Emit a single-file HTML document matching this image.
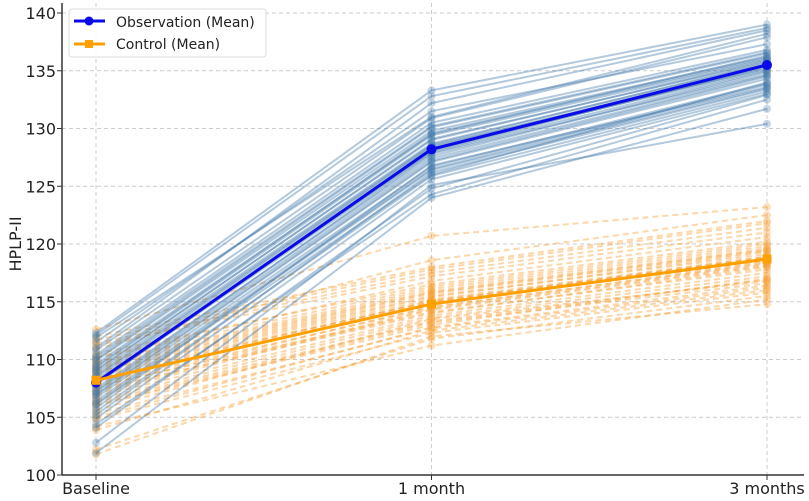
<!DOCTYPE html>
<html><head><meta charset="utf-8"><style>
body{margin:0;background:#fff;}
svg text{font-family:"DejaVu Sans","Liberation Sans",sans-serif;}
</style></head><body>
<svg id="chart" width="809" height="496" xmlns="http://www.w3.org/2000/svg"></svg>
<script>
const categories=["Baseline","1 month","3 months"];
const yTicks=[100,105,110,115,120,125,130,135,140];
const obsBase=[108.5,110.2,106.1,112.3,104.4,109.0,107.2,111.5,102.8,105.8,109.9,108.1,106.9,110.8,101.9,107.8,109.3,111.0,105.2,108.8,107.5,106.4,110.4,104.9,109.6,108.3,107.0,111.9,106.7,109.1,112.1,105.5,108.0,107.3,110.0,104.1,106.2,109.4,108.6,107.9];
const obs1m=[128.5,130.2,126.0,133.3,124.3,129.1,127.4,131.5,125.1,126.8,129.8,128.0,127.1,130.9,124.0,128.3,129.4,132.2,126.2,128.7,127.6,126.5,130.5,125.6,129.5,128.4,127.2,131.0,126.7,129.0,132.8,125.9,128.1,127.8,130.1,124.8,126.4,129.6,128.6,127.9];
const obs3m=[135.2,136.6,134.0,139.0,132.5,135.8,134.6,137.3,130.4,133.6,136.2,135.4,134.3,137.9,131.7,135.1,136.0,138.5,133.4,135.6,134.9,133.8,136.8,133.0,136.3,135.5,134.5,138.2,133.9,135.9,138.7,133.2,135.3,134.7,136.5,132.9,133.5,136.1,135.7,135.0];
const ctlBase=[108.2,110.5,106.0,112.6,104.2,109.2,107.4,111.2,101.8,105.6,109.8,108.5,106.8,110.9,103.9,107.6,109.5,111.7,105.0,108.9,107.0,106.5,110.2,104.8,109.7,108.0,107.7,112.0,106.3,109.0,111.4,105.3,108.3,107.2,110.1,102.2,106.1,109.3,108.7,107.9];
const ctl1m=[114.8,116.5,113.0,120.7,111.2,115.5,114.0,117.2,112.0,113.5,116.1,115.0,113.8,118.6,112.5,114.6,115.8,117.8,112.8,115.2,114.3,113.6,116.8,112.3,115.9,114.9,114.1,118.0,113.3,115.4,117.5,112.7,115.1,114.4,116.3,111.8,113.2,115.7,115.0,114.5];
const ctl3m=[118.6,120.2,117.0,123.2,115.2,119.1,118.0,121.0,114.8,116.8,119.8,118.8,117.5,122.5,116.0,118.3,119.5,121.8,116.4,118.9,118.1,117.2,120.6,115.8,119.6,118.5,117.8,122.0,116.9,119.3,121.4,116.2,118.7,118.2,120.0,115.5,116.6,119.4,118.9,118.4];
const obsMean=[108.0,128.2,135.5];
const ctlMean=[108.2,114.8,118.7];

const NS="http://www.w3.org/2000/svg";
const svg=document.getElementById('chart');
const X0=62,X1=804,Y0=475,Y1=13;
const xs=i=>96+i*335.5;
const ys=v=>Y0-(v-100)/40*(Y0-Y1);
function mk(t,a){const e=document.createElementNS(NS,t);for(const k in a)e.setAttribute(k,a[k]);svg.appendChild(e);return e;}
yTicks.forEach(v=>{
 const l=mk('line',{x1:X0,x2:X1,y1:ys(v),y2:ys(v),stroke:'#ccc','stroke-dasharray':'4,3','stroke-width':1});
 
 
 const t=mk('text',{x:X0-6,y:ys(v)+6,'text-anchor':'end','font-size':16,fill:'#222'});t.textContent=v;
 
 
 mk('line',{x1:X0-5,x2:X0,y1:ys(v),y2:ys(v),stroke:'#333'});
});
categories.forEach((c,i)=>{
 const l=mk('line',{x1:xs(i),x2:xs(i),y1:Y1-10,y2:Y0,stroke:'#ccc','stroke-dasharray':'4,3'});
 
 
 mk('line',{x1:xs(i),x2:xs(i),y1:Y0,y2:Y0+5,stroke:'#333'});
 const t=mk('text',{x:xs(i),y:494,'text-anchor':'middle','font-size':16,fill:'#222'});t.textContent=c;
 
 
});
function series(a,b,c,col,op,dash,name){
 for(let k=0;k<a.length;k++){
  const v=[a[k],b[k],c[k]];
  const p=mk('polyline',{points:v.map((y,i)=>xs(i)+','+ys(y)).join(' '),fill:'none',stroke:col,'stroke-opacity':op,'stroke-width':2,'stroke-dasharray':dash});
  
  
  v.forEach((y,i)=>{mk('circle',{cx:xs(i),cy:ys(y),r:4,fill:col,'fill-opacity':0.3});});
 }
}
series(ctlBase,ctl1m,ctl3m,'#f79a2a',0.4,'6,4','control');
series(obsBase,obs1m,obs3m,'#4078aa',0.4,'','observation');
function mean(v,col,sq,name){
 const p=mk('polyline',{points:v.map((y,i)=>xs(i)+','+ys(y)).join(' '),fill:'none',stroke:col,'stroke-width':3});
 
 
 v.forEach((y,i)=>{ if(sq) mk('rect',{x:xs(i)-4.5,y:ys(y)-4.5,width:9,height:9,fill:col}); else mk('circle',{cx:xs(i),cy:ys(y),r:5,fill:col});});
}
mean(obsMean,'#0a0ae8',false,'observation-mean-line');
mean(ctlMean,'#ff9f00',true,'control-mean-line');
mk('line',{x1:X0,x2:X0,y1:3,y2:Y0,stroke:'#333','stroke-width':1.5});
mk('line',{x1:X0,x2:X1,y1:Y0,y2:Y0,stroke:'#333','stroke-width':1.5});
const yl=mk('text',{x:0,y:0,transform:'translate(21,244) rotate(-90)','text-anchor':'middle','font-size':16,fill:'#222'});yl.textContent='HPLP-II';


const lg=mk('rect',{x:69,y:9,width:197,height:48,rx:3,fill:'#fff','fill-opacity':0.85,stroke:'#ddd'});


mk('line',{x1:74,x2:105,y1:21,y2:21,stroke:'#0a0ae8','stroke-width':3});
mk('circle',{cx:89,cy:21,r:4.5,fill:'#0a0ae8'});
let t=mk('text',{x:116,y:27,'font-size':14,fill:'#222'});t.textContent='Observation (Mean)';


mk('line',{x1:74,x2:105,y1:44,y2:44,stroke:'#ff9f00','stroke-width':3});
mk('rect',{x:85,y:40,width:8,height:8,fill:'#ff9f00'});
t=mk('text',{x:116,y:49,'font-size':14,fill:'#222'});t.textContent='Control (Mean)';


</script>
</body></html>
